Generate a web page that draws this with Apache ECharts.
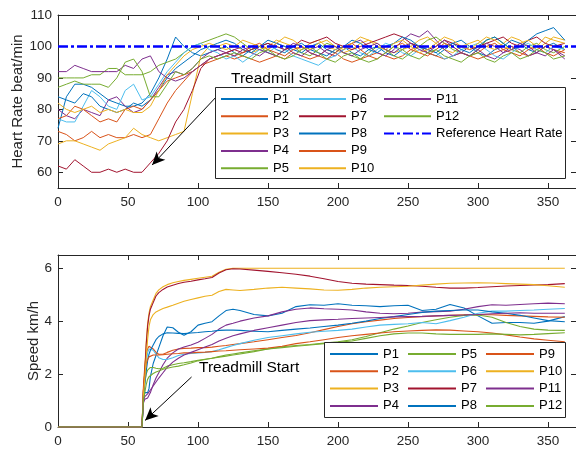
<!DOCTYPE html>
<html>
<head>
<meta charset="utf-8">
<script src="https://cdn.jsdelivr.net/npm/echarts@6/dist/echarts.min.js"></script>
<style>
  html, body { margin: 0; padding: 0; background: #fff; }
  #chart { width: 576px; height: 452px; }
</style>
</head>
<body>
<div id="chart"></div>
<script>
// ---- data ----
const NAMES = ['P1','P2','P3','P4','P5','P6','P7','P8','P9','P10','P11','P12'];

// heart rate, time in s
const HR_T = [0,6,12,18,24,30,36,42,48,54,60,
  66,72,78,84,90,96,102,108,114,120,
  126,132,138,144,150,156,162,168,174,180,
  186,192,198,204,210,216,222,228,234,240,
  246,252,258,264,270,276,282,288,294,300,
  306,312,318,324,330,336,342,348,354,362];

const HR_P1 = [74,84,88,88,87,85,83,82,81,81,82, 85,90,96,103,100,98,97,98,99,100, 98,97,99,100,101,99,98,100,101,99, 98,97,99,100,98,97,99,100,98,97, 99,101,100,98,97,99,101,102,100,98, 97,99,100,102,101,99,98,100,101,99];
const HR_P2 = [73,72,70,71,73,71,72,71,71,72,71, 72,77,82,86,89,92,94,95,96,97, 96,97,96,95,96,97,96,98,97,96, 97,99,98,96,95,96,97,98,97,96, 97,99,100,98,97,96,97,98,97,96, 97,98,99,100,98,97,98,100,99,98];
const HR_P3 = [69,70,70,69,68,67,69,70,71,74,72, 71,70,71,72,73,85,97,100,100,101, 100,99,98,99,100,102,101,100,99,101, 102,100,99,98,99,101,102,101,99,98, 99,100,102,103,101,99,98,100,101,102, 100,99,101,103,102,100,99,101,103,102];
const HR_P4 = [80,78,77,80,79,78,83,84,81,79,80, 83,87,91,92,91,93,96,98,99,98, 99,100,98,97,99,101,100,98,97,99, 100,98,97,99,101,102,100,98,97,99, 102,104,103,105,102,99,97,98,100,99, 97,96,98,100,99,97,98,100,99,97];
const HR_P5 = [90,90,90,90,91,91,93,93,91,91,91, 92,94,95,96,98,100,101,102,103,104, 103,101,99,100,98,97,99,100,98,97, 99,101,100,98,97,96,98,100,99,97, 96,98,100,102,103,101,99,98,97,99, 102,103,101,99,98,100,101,99,98,100];
const HR_P6 = [77,76,76,81,86,84,81,80,86,88,83, 84,88,92,95,98,100,101,99,98,96, 97,95,97,99,98,100,99,97,96,95, 94,96,97,99,100,98,97,99,101,100, 98,97,99,100,98,96,97,99,100,101, 99,97,96,98,100,101,99,98,100,99];
const HR_P7 = [62,61,64,62,60,60,61,60,61,60,60, 63,66,70,76,80,86,93,96,97,98, 99,98,99,100,101,100,99,100,102,101, 102,103,101,100,99,100,101,102,103,104, 103,101,100,99,100,102,101,100,99,100, 101,102,103,101,100,102,103,101,100,101];
const HR_P8 = [84,83,82,85,84,81,80,79,80,82,81, 83,86,90,93,95,97,99,100,101,102, 101,99,98,100,102,101,100,99,98,100, 101,99,98,100,102,101,99,98,100,101, 103,102,100,99,98,100,101,99,98,100, 102,103,101,99,100,102,104,105,106,102];
const HR_P9 = [77,78,81,80,78,76,77,76,80,81,80, 83,86,89,90,91,92,94,96,97,98, 97,98,100,101,99,98,97,99,100,98, 97,96,98,100,101,99,97,96,98,100, 101,99,98,97,99,101,100,98,97,98, 100,101,99,98,97,99,100,98,97,99];
const HR_P10 = [82,80,79,80,81,79,80,79,80,79,79, 81,86,91,94,97,99,100,101,100,99, 100,102,101,100,99,101,103,102,100,99, 101,102,100,99,101,103,102,100,99,101, 102,100,98,99,101,103,102,100,99,101, 103,102,100,99,101,102,100,103,102,101];
const HR_P11 = [92,92,94,93,92,92,92,92,94,93,96, 97,92,90,89,90,92,94,96,97,98, 97,99,100,99,98,97,99,101,100,98, 97,99,100,98,97,99,100,101,99,98, 100,101,99,98,100,102,100,98,97,99, 101,100,98,99,101,100,98,97,99,96];
const HR_P12 = [87,88,89,88,88,88,87,90,95,96,92, 84,84,88,92,91,93,96,97,96,97, 98,97,96,98,99,97,96,97,99,100, 98,96,95,97,98,96,95,96,98,100, 99,97,96,98,99,97,96,95,97,98, 96,95,97,98,96,97,99,98,96,97];
const HR_REF = 100;
const HR_REF_T = [0, 370];

// treadmill speed, km/h
const SPEED_T = [0,60, 61,62,63,64,65,66, 68,70,72,75,78,82,86,90,95, 100,105,110,115,120,125,130,
  140,150,160,170,180,190,200,210,220,230,240,250,260,270,280,290,300,310,320,330,340,350, 362];

const SP_P1 = [0,0, 1.0,1.3,1.35,1.3,1.45,1.9, 2.4,2.7,3.0,3.45,3.78,3.75,3.58,3.47,3.6, 3.85,3.92,3.98,4.2,4.4,4.45,4.4,
  4.25,4.2,4.3,4.55,4.62,4.6,4.66,4.6,4.58,4.55,4.58,4.6,4.4,4.45,4.63,4.5,4.2,3.92,3.95,3.95,3.92,4.0, 4.17];
const SP_P2 = [0,0, 1.5,2.3,2.75,2.95,3.05,3.05, 2.95,2.82,2.75,2.75,2.82,2.9,2.95,2.97,2.98, 3.0,3.0,3.02,3.05,3.08,3.12,3.15,
  3.22,3.3,3.38,3.46,3.56,3.68,3.8,3.9,3.98,4.04,4.1,4.14,4.17,4.2,4.22,4.24,4.25,4.24,4.22,4.2,4.18,4.16, 4.15];
const SP_P3 = [0,0, 1.4,2.2,3.2,3.9,4.3,4.55, 4.8,5.05,5.18,5.3,5.38,5.45,5.5,5.54,5.58, 5.62,5.66,5.7,5.85,5.96,6.0,6.0,
  6.0,6.0,6.0,6.0,6.0,6.0,6.0,6.0,6.0,6.0,6.0,6.0,6.0,6.0,6.0,6.0,6.0,6.0,6.0,6.0,6.0,6.0, 6.0];
const SP_P4 = [0,0, 0.9,1.05,1.1,1.1,1.15,1.3, 1.6,1.85,2.05,2.35,2.6,2.8,2.95,3.02,3.1, 3.2,3.35,3.5,3.7,3.85,3.92,4.0,
  4.12,4.2,4.35,4.45,4.5,4.47,4.45,4.42,4.35,4.3,4.28,4.3,4.34,4.36,4.38,4.45,4.55,4.62,4.6,4.63,4.66,4.68, 4.66];
const SP_P5 = [0,0, 1.2,1.7,2.0,2.15,2.22,2.25, 2.25,2.22,2.2,2.22,2.3,2.35,2.4,2.43,2.47, 2.52,2.56,2.6,2.64,2.68,2.72,2.76,
  2.85,2.95,3.03,3.08,3.12,3.17,3.22,3.3,3.42,3.56,3.7,3.82,3.95,4.05,4.15,4.22,4.23,4.15,3.95,3.8,3.7,3.66, 3.65];
const SP_P6 = [0,0, 1.3,1.8,2.4,2.8,2.95,3.0, 2.9,2.75,2.62,2.55,2.55,2.62,2.7,2.75,2.78, 2.8,2.82,2.85,2.92,3.0,3.08,3.15,
  3.28,3.38,3.45,3.52,3.58,3.62,3.65,3.7,3.78,3.85,3.88,3.9,3.95,3.9,4.02,4.15,4.3,4.38,4.38,4.4,4.42,4.45, 4.48];
const SP_P7 = [0,0, 1.35,2.1,3.1,3.8,4.2,4.45, 4.7,4.95,5.08,5.2,5.29,5.36,5.42,5.47,5.51, 5.56,5.6,5.65,5.82,5.94,5.98,5.97,
  5.93,5.88,5.83,5.77,5.7,5.6,5.5,5.43,5.4,5.38,5.36,5.35,5.32,5.28,5.25,5.25,5.27,5.3,5.33,5.35,5.37,5.38, 5.42];
const SP_P8 = [0,0, 1.1,1.6,2.1,2.5,2.75,2.9, 3.1,3.3,3.42,3.52,3.56,3.55,3.54,3.53,3.55, 3.57,3.6,3.62,3.65,3.66,3.66,3.65,
  3.62,3.6,3.65,3.7,3.74,3.8,3.85,3.92,4.0,4.1,4.17,4.25,4.33,4.38,4.4,4.42,4.42,4.35,4.3,4.22,4.12,4.02, 3.98];
const SP_P9 = [0,0, 1.4,2.0,2.4,2.55,2.65,2.7, 2.72,2.72,2.72,2.73,2.75,2.77,2.78,2.8,2.8, 2.82,2.83,2.85,2.87,2.88,2.9,2.92,
  2.95,2.98,3.05,3.15,3.22,3.3,3.38,3.45,3.5,3.55,3.6,3.63,3.65,3.67,3.66,3.63,3.6,3.55,3.48,3.4,3.33,3.28, 3.22];
const SP_P10 = [0,0, 1.2,1.8,2.6,3.3,3.8,4.05, 4.25,4.35,4.4,4.48,4.53,4.6,4.68,4.75,4.82, 4.88,4.94,4.98,5.12,5.2,5.18,5.16,
  5.2,5.25,5.28,5.25,5.22,5.18,5.17,5.2,5.25,5.28,5.3,5.32,5.36,5.4,5.43,5.44,5.45,5.44,5.42,5.4,5.38,5.34, 5.28];
const SP_P11 = [0,0, 1.0,1.15,1.2,1.25,1.3,1.4, 1.55,1.7,1.85,2.05,2.25,2.45,2.6,2.72,2.82, 2.92,3.02,3.12,3.25,3.35,3.45,3.52,
  3.65,3.75,3.85,3.95,4.02,4.05,4.07,4.1,4.12,4.14,4.16,4.17,4.18,4.2,4.22,4.23,4.25,4.28,4.3,4.32,4.3,4.3, 4.3];
const SP_P12 = [0,0, 1.0,1.3,1.6,1.8,1.9,1.95, 2.02,2.08,2.12,2.18,2.22,2.27,2.3,2.35,2.42, 2.5,2.55,2.6,2.66,2.72,2.76,2.8,
  2.88,2.95,3.0,3.05,3.1,3.15,3.2,3.25,3.35,3.45,3.52,3.55,3.55,3.52,3.5,3.5,3.5,3.52,3.5,3.48,3.5,3.53, 3.56];

const HR_TICKS = [60, 70, 80, 90, 100, 110];
const SPEED_TICKS = [0, 2, 4, 6];

// annotation arrows [from, to] in data coords
const ARROW_HR = [[119, 86.8], [67.2, 62.3]];
const ARROW_SPEED = [[95.4, 1.89], [62.2, 0.25]];

const HR = [HR_P1,HR_P2,HR_P3,HR_P4,HR_P5,HR_P6,HR_P7,HR_P8,HR_P9,HR_P10,HR_P11,HR_P12];
const SPEED = [SP_P1,SP_P2,SP_P3,SP_P4,SP_P5,SP_P6,SP_P7,SP_P8,SP_P9,SP_P10,SP_P11,SP_P12];

// MATLAB default colour order
const COLORS = ['#0072BD','#D95319','#EDB120','#7E2F8E','#77AC30','#4DBEEE','#A2142F',
                '#0072BD','#D95319','#EDB120','#7E2F8E','#77AC30'];

const FONT = '"Liberation Sans", Arial, sans-serif';
const AX = '#262626';

const chart = echarts.init(document.getElementById('chart'));

function xAx(grid, pos) {
  return {
    type: 'value', gridIndex: grid, position: pos, min: 0, max: 370, interval: 50,
    axisLine: { show: true, onZero: false, lineStyle: { color: AX, width: 1 } },
    axisTick: { show: true, inside: true, length: 5, lineStyle: { color: AX } },
    axisLabel: { show: pos === 'bottom', showMaxLabel: false, margin: 7, color: AX, fontSize: 13.5, fontFamily: FONT },
    splitLine: { show: false },
  };
}
function yAx(grid, pos, min, max, ticks, name, gap) {
  return {
    type: 'value', gridIndex: grid, position: pos, min, max,
    name: pos === 'left' ? name : '', nameLocation: 'middle', nameGap: gap, nameMoveOverlap: false,
    nameTextStyle: { color: AX, fontSize: 15, fontFamily: FONT },
    axisLine: { show: true, onZero: false, lineStyle: { color: AX, width: 1 } },
    axisTick: { show: true, inside: true, length: 5, customValues: ticks, lineStyle: { color: AX } },
    axisLabel: { show: pos === 'left', customValues: ticks, margin: 6, color: AX, fontSize: 13.5, fontFamily: FONT },
    splitLine: { show: false },
  };
}

const series = [];
HR.forEach((vals, k) => {
  series.push({
    type: 'line', name: NAMES[k], xAxisIndex: 0, yAxisIndex: 0,
    data: HR_T.map((t, i) => [t, vals[i]]),
    symbol: 'none', lineStyle: { width: 1, color: COLORS[k] }, itemStyle: { color: COLORS[k] },
  });
});
series.push({
  type: 'line', name: 'Reference Heart Rate', xAxisIndex: 0, yAxisIndex: 0,
  data: HR_REF_T.map(t => [t, HR_REF]),
  symbol: 'none', z: 3,
  lineStyle: { width: 2.5, color: '#0000FF', type: [10, 3, 3, 3] }, itemStyle: { color: '#0000FF' },
  markLine: {
    silent: true, animation: false, symbol: ['none', 'arrow'], symbolSize: [9, 13],
    lineStyle: { color: '#000', width: 1, type: 'solid' }, itemStyle: { color: '#000' },
    label: { show: false },
    data: [[{ coord: ARROW_HR[0] }, { coord: ARROW_HR[1] }]],
  },
});
SPEED.forEach((vals, k) => {
  const s = {
    type: 'line', name: NAMES[k], xAxisIndex: 2, yAxisIndex: 2,
    data: SPEED_T.map((t, i) => [t, vals[i]]),
    symbol: 'none', lineStyle: { width: 1.1, color: COLORS[k] }, itemStyle: { color: COLORS[k] },
  };
  if (k === SPEED.length - 1) {
    s.markLine = {
      silent: true, animation: false, symbol: ['none', 'arrow'], symbolSize: [9, 13],
      lineStyle: { color: '#000', width: 1, type: 'solid' }, itemStyle: { color: '#000' },
      label: { show: false },
      data: [[{ coord: ARROW_SPEED[0] }, { coord: ARROW_SPEED[1] }]],
    };
  }
  series.push(s);
});

function legendCol(names, left, top, w) {
  return {
    data: names, orient: 'vertical', left, top, padding: 0, z: 20,
    itemWidth: w, itemHeight: 14, itemGap: 3.3, selectedMode: false,
    itemStyle: { opacity: 0 },
    textStyle: { color: '#000', fontSize: 13, fontFamily: FONT, lineHeight: 14 },
  };
}

chart.setOption({
  animation: false,
  backgroundColor: '#fff',
  grid: [
    { left: 58, top: 15, width: 519, height: 173 },
    { left: 58, top: 255, width: 519, height: 172 },
  ],
  xAxis: [xAx(0, 'bottom'), xAx(0, 'top'), xAx(1, 'bottom'), xAx(1, 'top')],
  yAxis: [
    yAx(0, 'left', 55, 110, HR_TICKS, 'Heart Rate beat/min', 33),
    yAx(0, 'right', 55, 110, HR_TICKS, '', 0),
    yAx(1, 'left', 0, 6.5, SPEED_TICKS, 'Speed km/h', 17),
    yAx(1, 'right', 0, 6.5, SPEED_TICKS, '', 0),
  ],
  legend: [
    legendCol(['P1','P2','P3','P4','P5'], 220, 92, 47),
    legendCol(['P6','P7','P8','P9','P10'], 298, 92, 47),
    legendCol(['P11','P12','Reference Heart Rate'], 383, 92, 47),
    legendCol(['P1','P2','P3','P4'], 329, 347, 48),
    legendCol(['P5','P6','P7','P8'], 407, 347, 48),
    legendCol(['P9','P10','P11','P12'], 485, 347, 48),
  ],
  graphic: [
    { type: 'rect', z: 10, shape: { x: 215.5, y: 87.5, width: 350, height: 91 },
      style: { fill: '#fff', stroke: AX, lineWidth: 1 } },
    { type: 'rect', z: 10, shape: { x: 324.5, y: 342.5, width: 241, height: 75 },
      style: { fill: '#fff', stroke: AX, lineWidth: 1 } },
    { type: 'text', z: 10, x: 231, y: 79,
      style: { text: 'Treadmill Start', fontSize: 15.5, fontFamily: FONT, fill: '#000', verticalAlign: 'middle' } },
    { type: 'text', z: 10, x: 199, y: 367.5,
      style: { text: 'Treadmill Start', fontSize: 15.5, fontFamily: FONT, fill: '#000', verticalAlign: 'middle' } },
  ],
  series,
});
</script>
</body>
</html>
